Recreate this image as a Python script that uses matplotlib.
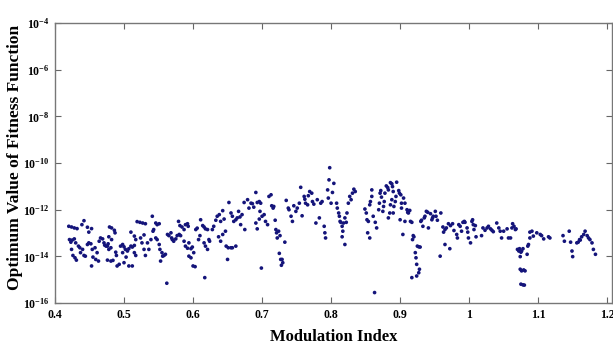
import numpy as np
import matplotlib
matplotlib.use("Agg")
import matplotlib.pyplot as plt
from matplotlib.ticker import FixedLocator, FixedFormatter, NullLocator

# modulation index values (x) and log10 of optimum fitness value (exponent)
mod_index_a = [
    0.420, 0.424, 0.428, 0.432, 0.442, 0.439, 0.447, 0.453, 0.449, 0.421,
    0.423, 0.425, 0.428, 0.430, 0.424, 0.426, 0.429, 0.431, 0.434, 0.436,
    0.437, 0.440, 0.442, 0.444, 0.447, 0.449, 0.452, 0.454, 0.455, 0.453,
    0.458, 0.459, 0.461, 0.463, 0.464, 0.466, 0.469, 0.471, 0.472, 0.474,
    0.476, 0.477, 0.478, 0.479, 0.482, 0.486, 0.487, 0.482, 0.481, 0.478,
    0.476, 0.481, 0.484, 0.488, 0.489, 0.490, 0.493, 0.495, 0.498, 0.500,
    0.502, 0.505, 0.507, 0.510, 0.512, 0.515, 0.507, 0.512, 0.498, 0.500,
    0.503, 0.515, 0.517, 0.510, 0.515, 0.517, 0.519, 0.523, 0.527, 0.531,
    0.529, 0.524, 0.526, 0.529, 0.531, 0.534, 0.536, 0.539, 0.541, 0.542,
    0.543, 0.546, 0.548, 0.551, 0.546, 0.548, 0.551, 0.552, 0.555, 0.556,
    0.553, 0.558, 0.560, 0.562, 0.563, 0.565, 0.568, 0.569, 0.570, 0.572,
    0.575, 0.577, 0.580, 0.582, 0.579, 0.581, 0.584, 0.587, 0.589, 0.592,
    0.593, 0.587, 0.589, 0.592, 0.594, 0.597, 0.599, 0.600, 0.603, 0.594,
    0.597, 0.601, 0.604, 0.606, 0.608, 0.610, 0.611, 0.614, 0.616, 0.618,
    0.621, 0.617, 0.616, 0.618, 0.621, 0.623, 0.624, 0.628, 0.630, 0.633,
    0.635, 0.638, 0.640, 0.643, 0.645, 0.647, 0.648, 0.650, 0.651, 0.655,
    0.657, 0.662, 0.643, 0.640, 0.637, 0.652, 0.655, 0.657, 0.659, 0.662,
    0.664, 0.666, 0.668, 0.669, 0.671, 0.674, 0.675, 0.679, 0.681, 0.684,
    0.686, 0.688, 0.691, 0.693, 0.696, 0.697, 0.698, 0.696, 0.693, 0.691,
    0.699, 0.700, 0.703, 0.705, 0.708, 0.710, 0.713, 0.714, 0.716, 0.717,
    0.719, 0.720, 0.721, 0.722, 0.724, 0.726, 0.725, 0.727, 0.729, 0.730,
    0.728, 0.733, 0.735, 0.738, 0.739, 0.742, 0.744, 0.746, 0.749, 0.751,
    0.754, 0.756, 0.758, 0.761, 0.762, 0.763, 0.766, 0.767, 0.769, 0.772,
    0.773, 0.775, 0.778, 0.780, 0.783, 0.785, 0.787, 0.790, 0.791, 0.792,
    0.795, 0.797, 0.796, 0.798, 0.800, 0.802, 0.804,
]
fitness_exp_a = [
    -12.71, -12.74, -12.78, -12.81, -12.47, -12.64, -12.75, -12.81, -12.96, -13.28,
    -13.39, -13.30, -13.25, -13.42, -13.70, -13.96, -14.06, -14.16, -13.56, -13.63,
    -13.84, -13.70, -13.96, -13.99, -13.49, -13.42, -13.46, -13.70, -14.03, -14.41,
    -13.63, -14.13, -13.84, -14.20, -13.35, -13.21, -13.25, -13.42, -13.52, -13.56,
    -13.56, -13.46, -13.16, -12.74, -12.78, -12.88, -12.99, -13.28, -13.63, -13.70,
    -14.16, -14.20, -14.17, -13.82, -13.96, -14.41, -14.34, -13.56, -13.49, -13.59,
    -13.70, -13.77, -13.67, -13.56, -13.60, -13.53, -14.41, -14.41, -13.84, -14.27,
    -14.03, -13.84, -13.96, -12.96, -13.13, -13.28, -12.51, -12.54, -12.57, -12.60,
    -13.08, -13.21, -13.42, -13.70, -13.96, -13.42, -13.70, -13.28, -12.28, -12.92,
    -12.85, -12.57, -12.64, -12.60, -13.21, -13.28, -13.49, -13.70, -13.84, -13.99,
    -14.20, -13.96, -13.91, -15.15, -13.06, -13.11, -12.99, -13.21, -13.28, -13.35,
    -13.25, -13.11, -13.06, -13.11, -12.50, -12.68, -12.74, -12.85, -12.64, -12.60,
    -12.71, -13.35, -13.56, -13.65, -13.42, -13.67, -13.60, -14.41, -14.44, -13.99,
    -14.06, -13.84, -12.85, -12.79, -13.28, -13.11, -12.43, -12.68, -12.74, -12.82,
    -12.85, -14.91, -13.42, -13.56, -13.70, -13.28, -13.35, -12.85, -12.71, -12.45,
    -12.28, -12.21, -12.50, -12.04, -12.40, -12.92, -13.56, -14.13, -13.63, -13.63,
    -13.63, -13.56, -13.06, -13.35, -13.16, -11.69, -12.14, -12.28, -12.50, -12.43,
    -12.35, -12.07, -12.31, -12.64, -12.21, -11.69, -12.85, -11.57, -11.93, -11.72,
    -11.74, -11.89, -11.26, -11.69, -11.65, -12.07, -11.72, -12.40, -12.82, -12.57,
    -14.50, -12.28, -12.21, -12.50, -12.64, -11.43, -11.36, -11.83, -11.93, -11.86,
    -12.45, -12.85, -12.99, -13.21, -12.92, -13.11, -13.87, -14.13, -14.13, -14.27,
    -14.38, -13.39, -11.60, -11.93, -12.00, -12.28, -12.50, -11.83, -12.07, -11.93,
    -11.72, -11.04, -12.26, -11.43, -11.55, -11.72, -11.79, -11.40, -11.22, -11.29,
    -11.65, -11.76, -12.57, -11.57, -12.35, -11.72, -11.65, -12.71, -12.99, -13.21,
    -11.15, -10.72, -11.50, -10.20, -11.72, -11.26, -10.87,
]

mod_index_b = [
    0.808, 0.809, 0.811, 0.812, 0.813, 0.816, 0.817, 0.814, 0.818, 0.820,
    0.822, 0.820, 0.816, 0.823, 0.825, 0.827, 0.829, 0.831, 0.833, 0.835,
    0.849, 0.851, 0.852, 0.853, 0.856, 0.854, 0.856, 0.857, 0.859, 0.859,
    0.861, 0.864, 0.866, 0.869, 0.870, 0.871, 0.872, 0.873, 0.875, 0.876,
    0.877, 0.878, 0.880, 0.882, 0.883, 0.886, 0.888, 0.889, 0.890, 0.888,
    0.886, 0.885, 0.883, 0.890, 0.891, 0.893, 0.894, 0.895, 0.898, 0.899,
    0.901, 0.902, 0.902, 0.905, 0.907, 0.907, 0.910, 0.911, 0.912, 0.914,
    0.915, 0.917, 0.904, 0.900, 0.863, 0.919, 0.918, 0.920, 0.922, 0.923,
    0.924, 0.925, 0.927, 0.929, 0.928, 0.927, 0.924, 0.917, 0.930, 0.931,
    0.933, 0.935, 0.936, 0.938, 0.940, 0.941, 0.944, 0.946, 0.947, 0.948,
    0.951, 0.952, 0.954, 0.958, 0.959, 0.962, 0.963, 0.965, 0.967, 0.965,
    0.970, 0.972, 0.973, 0.976, 0.978, 0.982, 0.983, 0.985, 0.987, 0.989,
    0.991, 0.993, 0.994, 0.997, 0.998, 0.999, 1.002, 1.004, 1.005, 1.006,
    1.007, 1.009, 1.010, 1.018, 1.020, 1.023, 1.026, 1.028, 1.031, 1.033,
    1.035, 1.040, 1.043, 1.045, 1.047, 1.050, 1.055, 1.057, 1.060, 1.062,
    1.063, 1.065, 1.067, 1.068, 1.070, 1.072, 1.073, 1.074, 1.075, 1.076,
    1.078, 1.074, 1.076, 1.079, 1.081, 1.075, 1.078, 1.080, 1.084, 1.085,
    1.086, 1.088, 1.088, 1.091, 1.093, 1.098, 1.103, 1.105, 1.108, 1.115,
    1.117, 1.136, 1.138, 1.145, 1.147, 1.149, 1.150, 1.156, 1.158, 1.160,
    1.161, 1.163, 1.166, 1.168, 1.171, 1.173, 1.175, 1.178, 1.180, 1.183,
]
fitness_exp_b = [
    -11.72, -11.93, -12.14, -12.28, -12.50, -12.71, -12.92, -12.54, -12.57, -12.35,
    -12.54, -13.49, -13.16, -12.14, -11.72, -11.43, -11.57, -11.29, -11.12, -11.22,
    -11.97, -12.14, -12.43, -12.99, -13.21, -12.50, -11.79, -11.65, -11.15, -11.43,
    -12.28, -12.54, -12.78, -12.00, -11.72, -11.29, -11.18, -11.46, -12.07, -11.86,
    -11.65, -11.29, -10.98, -11.05, -11.15, -10.84, -10.89, -11.01, -11.22, -11.57,
    -11.79, -12.14, -12.35, -12.14, -11.86, -11.65, -11.43, -10.82, -11.18, -11.29,
    -11.36, -11.93, -11.72, -11.50, -11.72, -12.50, -12.00, -12.11, -12.14, -12.03,
    -12.50, -12.54, -13.06, -12.43, -15.55, -13.11, -13.28, -13.16, -13.84, -14.06,
    -14.34, -13.56, -13.59, -13.60, -14.55, -14.70, -14.84, -14.91, -12.50, -12.45,
    -12.71, -12.35, -12.28, -12.07, -12.11, -12.78, -12.17, -12.43, -12.35, -12.28,
    -12.07, -12.28, -12.45, -13.99, -12.14, -12.74, -12.96, -12.85, -12.78, -13.49,
    -12.60, -13.67, -12.68, -12.60, -12.89, -13.06, -13.21, -12.64, -12.71, -12.92,
    -12.54, -12.50, -12.54, -12.78, -12.96, -13.21, -13.42, -12.50, -12.43, -12.64,
    -12.85, -12.68, -13.16, -13.11, -12.78, -12.88, -12.78, -12.71, -12.82, -12.88,
    -12.94, -12.57, -12.78, -12.92, -13.21, -12.92, -12.82, -13.21, -13.21, -12.78,
    -12.60, -12.71, -12.85, -12.82, -13.70, -13.77, -13.67, -14.01, -13.82, -13.77,
    -13.67, -14.55, -14.62, -14.58, -14.62, -15.19, -15.22, -15.23, -13.91, -13.56,
    -13.49, -13.21, -12.96, -12.92, -13.13, -12.99, -13.06, -13.11, -13.25, -13.16,
    -13.21, -13.11, -13.35, -12.92, -13.39, -13.77, -14.01, -13.42, -13.39, -13.28,
    -13.30, -13.16, -13.06, -12.92, -13.11, -13.21, -13.28, -13.42, -13.70, -13.91,
]

x_ticks = [0.4, 0.5, 0.6, 0.7, 0.8, 0.9, 1.0, 1.1, 1.2]
x_tick_labels = ["0.4", "0.5", "0.6", "0.7", "0.8", "0.9", "1", "1.1", "1.2"]
y_exp_ticks = [-16, -14, -12, -10, -8, -6, -4]

plt.rcParams["font.family"] = ["Liberation Serif", "DejaVu Serif"]
plt.rcParams["mathtext.fontset"] = "custom"
plt.rcParams["mathtext.rm"] = "Liberation Serif:bold"
plt.rcParams["mathtext.it"] = "Liberation Serif:bold"
plt.rcParams["mathtext.bf"] = "Liberation Serif:bold"

fig = plt.figure(figsize=(6.13, 3.44), dpi=100)
ax = fig.add_axes([0.0897, 0.119, 0.9087, 0.814])

xs = np.array(mod_index_a + mod_index_b)
ys = 10.0 ** np.array(fitness_exp_a + fitness_exp_b)
ax.scatter(xs, ys, s=7, color="#14147a", edgecolors="none", zorder=3)

ax.set_yscale("log")
ax.set_xlim(0.4, 1.207)
ax.set_ylim(1e-16, 1e-4)

ax.xaxis.set_major_locator(FixedLocator(x_ticks))
ax.xaxis.set_major_formatter(FixedFormatter(x_tick_labels))
ax.xaxis.set_minor_locator(NullLocator())
y_ticks = [10.0 ** e for e in y_exp_ticks]
ax.yaxis.set_major_locator(FixedLocator(y_ticks))
ax.yaxis.set_major_formatter(FixedFormatter(["$10^{%d}$" % e for e in y_exp_ticks]))
ax.yaxis.set_minor_locator(NullLocator())

ax.tick_params(direction="in", length=4, width=0.8, color="#666666",
               top=True, right=True, labelsize=8.5, pad=4)
for lbl in ax.get_xticklabels() + ax.get_yticklabels():
    lbl.set_fontweight("bold")
for sp in ax.spines.values():
    sp.set_color("#777777")
    sp.set_linewidth(1.0)

ax.set_xlabel("Modulation Index", fontsize=12, fontweight="bold", labelpad=6)
ax.set_ylabel("Optimum Value of Fitness Function", fontsize=12.5, fontweight="bold")
ax.yaxis.set_label_coords(-0.058, 0.52)

fig.savefig("out.png", dpi=100)
